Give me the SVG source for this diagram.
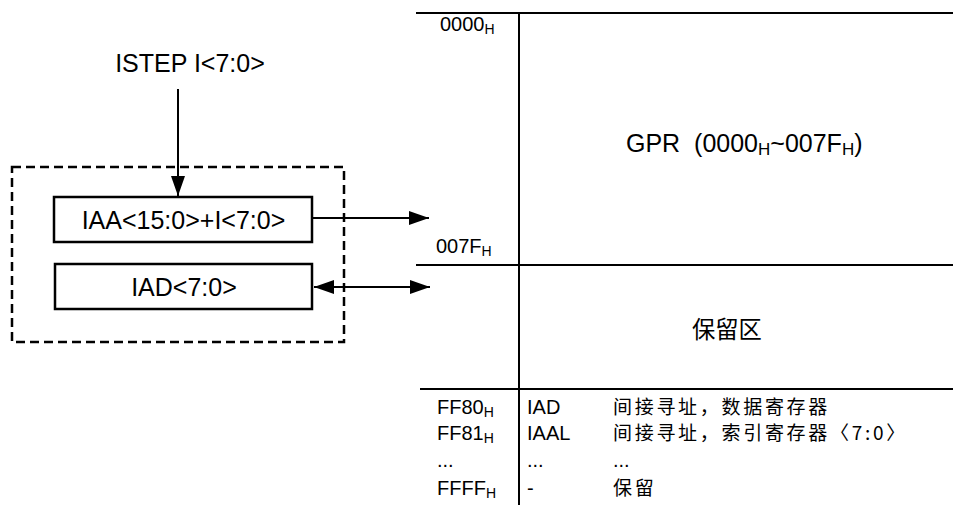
<svg xmlns="http://www.w3.org/2000/svg" width="953" height="505" viewBox="0 0 953 505">
<defs>
<marker id="ah" viewBox="0 0 20 20" refX="20" refY="10" markerWidth="20" markerHeight="20" markerUnits="userSpaceOnUse" orient="auto-start-reverse">
<path d="M0,3 L20,10 L0,17 Z" fill="#000"/>
</marker>
<style>
text{font-family:"Liberation Sans",Arial,sans-serif;fill:#000;white-space:pre}
.big{font-size:25px}
.mid{font-size:20px}
.sub{font-size:14px}
.cjk{font-family:"Noto Sans CJK SC","Liberation Sans",sans-serif;font-size:19px;letter-spacing:2.7px}
.ln{stroke:#000;stroke-width:2;fill:none}
.box{stroke:#000;stroke-width:2.5;fill:#fff}
</style>
</defs>
<rect width="953" height="505" fill="#fff"/>
<g id="memory-map">
<line class="ln" x1="416" y1="13" x2="953" y2="13"/>
<line class="ln" x1="416" y1="265" x2="953" y2="265"/>
<line class="ln" x1="420" y1="389" x2="953" y2="389"/>
<line class="ln" x1="519" y1="13" x2="519" y2="505"/>
<text class="mid" x="440" y="31">0000<tspan class="sub" dy="3">H</tspan></text>
<text class="mid" x="436" y="253">007F<tspan class="sub" dy="3">H</tspan></text>
<text class="big" x="626" y="152">GPR  (0000<tspan font-size="17" dy="3">H</tspan><tspan dy="-3">~007F</tspan><tspan font-size="17" dy="3">H</tspan><tspan dy="-3">)</tspan></text>
<text class="cjk" x="692" y="338" style="font-size:23.3px;letter-spacing:0">保留区</text>
</g>
<g id="table">
<text class="mid" x="437" y="414">FF80<tspan class="sub" dy="3">H</tspan></text>
<text class="mid" x="527" y="414">IAD</text>
<text class="cjk" x="613" y="414">间接寻址，数据寄存器</text>
<text class="mid" x="437" y="440">FF81<tspan class="sub" dy="3">H</tspan></text>
<text class="mid" x="527" y="440">IAAL</text>
<text class="cjk" x="613" y="440">间接寻址，索引寄存器〈7:0〉</text>
<text class="mid" x="437" y="467">...</text>
<text class="mid" x="527" y="467">...</text>
<text class="mid" x="613" y="467">...</text>
<text class="mid" x="437" y="495">FFFF<tspan class="sub" dy="3">H</tspan></text>
<text class="mid" x="527" y="495">-</text>
<text class="cjk" x="613" y="495">保留</text>
</g>
<g id="istep">
<text class="big" x="190" y="72" text-anchor="middle">ISTEP I&lt;7:0&gt;</text>
</g>
<g id="group">
<rect x="12" y="167" width="332" height="175" fill="none" stroke="#000" stroke-width="2.5" stroke-dasharray="9,5"/>
</g>
<g id="iaa">
<rect class="box" x="54" y="197" width="258" height="45"/>
<text class="big" x="183.5" y="229" text-anchor="middle">IAA&lt;15:0&gt;+I&lt;7:0&gt;</text>
</g>
<g id="iad">
<rect class="box" x="55" y="264" width="257" height="45"/>
<text class="big" x="184" y="296" text-anchor="middle">IAD&lt;7:0&gt;</text>
</g>
<g id="connectors">
<line class="ln" x1="178" y1="89" x2="178" y2="196" marker-end="url(#ah)" stroke-width="1.5"/>
<line class="ln" x1="313" y1="218" x2="429" y2="218" marker-end="url(#ah)" stroke-width="1.5"/>
<line class="ln" x1="314" y1="287" x2="430" y2="287" marker-start="url(#ah)" marker-end="url(#ah)" stroke-width="1.5"/>
</g>
</svg>
